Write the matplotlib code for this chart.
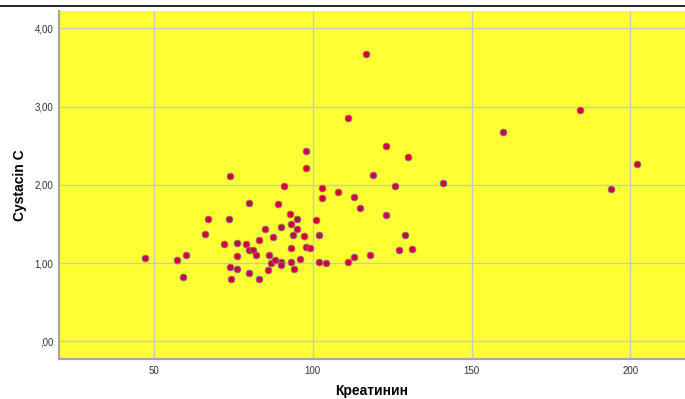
import matplotlib
matplotlib.use("Agg")
import matplotlib.pyplot as plt
from matplotlib.lines import Line2D
from matplotlib.ticker import FuncFormatter

kreatinin = [47.1, 57.1, 59.0, 60.1, 66.2, 67.0, 72.0, 74.0, 73.6, 73.9,
             74.2, 76.0, 76.2, 76.0, 79.0, 80.0, 80.0, 81.1, 82.1, 80.0,
             83.1, 83.1, 85.0, 86.1, 86.0, 87.0, 87.5, 88.2, 89.0, 90.0,
             90.0, 90.0, 91.0, 92.8, 93.0, 93.0, 93.0, 93.9, 94.1, 95.0,
             95.0, 96.1, 97.1, 98.0, 98.0, 98.0, 99.1, 101.1, 102.1, 102.1,
             103.0, 103.0, 104.1, 108.0, 111.0, 111.1, 113.1, 113.1, 114.9, 116.9,
             118.1, 119.0, 123.0, 123.1, 126.0, 127.2, 129.1, 130.0, 131.1, 141.0,
             160.0, 184.0, 194.0, 202.1]
cystacin = [1.07, 1.04, 0.82, 1.10, 1.37, 1.56, 1.24, 2.11, 1.57, 0.95,
            0.80, 1.26, 1.09, 0.93, 1.25, 1.77, 1.17, 1.17, 1.11, 0.88,
            1.30, 0.80, 1.43, 1.11, 0.91, 1.00, 1.34, 1.04, 1.75, 1.46,
            1.02, 0.98, 1.99, 1.63, 1.50, 1.19, 1.01, 1.36, 0.93, 1.56,
            1.43, 1.05, 1.35, 1.21, 2.43, 2.22, 1.19, 1.55, 1.36, 1.02,
            1.96, 1.83, 1.00, 1.91, 2.86, 1.01, 1.85, 1.08, 1.71, 3.67,
            1.10, 2.13, 2.50, 1.62, 1.99, 1.17, 1.36, 2.36, 1.18, 2.02,
            2.68, 2.96, 1.95, 2.26]

x_ticks = [50, 100, 150, 200]
y_ticks = [0, 1, 2, 3, 4]
x_label = "Креатинин"
y_label = "Cystacin C"

plt.rcParams['font.family'] = ['Liberation Sans', 'DejaVu Sans']

W, H = 685, 399
fig = plt.figure(figsize=(W / 100, H / 100), dpi=100)
ax = fig.add_axes([59 / W, 1 - 358.7 / H, (685 - 59) / W, (358.7 - 11) / H])
ax.set_facecolor('#ffff33')

ax.set_xlim(20.1, 217.2)
ax.set_ylim(-0.22, 4.22)
ax.set_xticks(x_ticks)
ax.set_yticks(y_ticks)
ax.yaxis.set_major_formatter(FuncFormatter(
    lambda v, p: ("%.2f" % v).replace('.', ',').replace('0,00', ',00')))
ax.grid(True, color='#c8c8c8', linewidth=1.0)
ax.set_axisbelow(True)

for s in ['top', 'right']:
    ax.spines[s].set_visible(False)
for s in ['left', 'bottom']:
    ax.spines[s].set_color('#a8a8a8')
    ax.spines[s].set_linewidth(1.6)

ax.tick_params(axis='both', length=0, labelsize=7, labelcolor='#333333')
ax.tick_params(axis='y', pad=4)
ax.tick_params(axis='x', pad=5)

ax.scatter(kreatinin, cystacin, s=24, c='#d2003c', edgecolors='#8a7a80',
           linewidths=0.6, zorder=3)

fig.text(372 / W, 1 - 391 / H, x_label, fontsize=10, fontweight='bold',
         ha='center', va='center')
fig.text(20 / W, 1 - 185 / H, y_label, fontsize=10, fontweight='bold',
         ha='center', va='center', rotation=90)

fig.add_artist(Line2D([0, 1], [1 - 6 / H, 1 - 6 / H], color='black',
                      linewidth=1.2, transform=fig.transFigure))

fig.savefig('out.png', dpi=100)
